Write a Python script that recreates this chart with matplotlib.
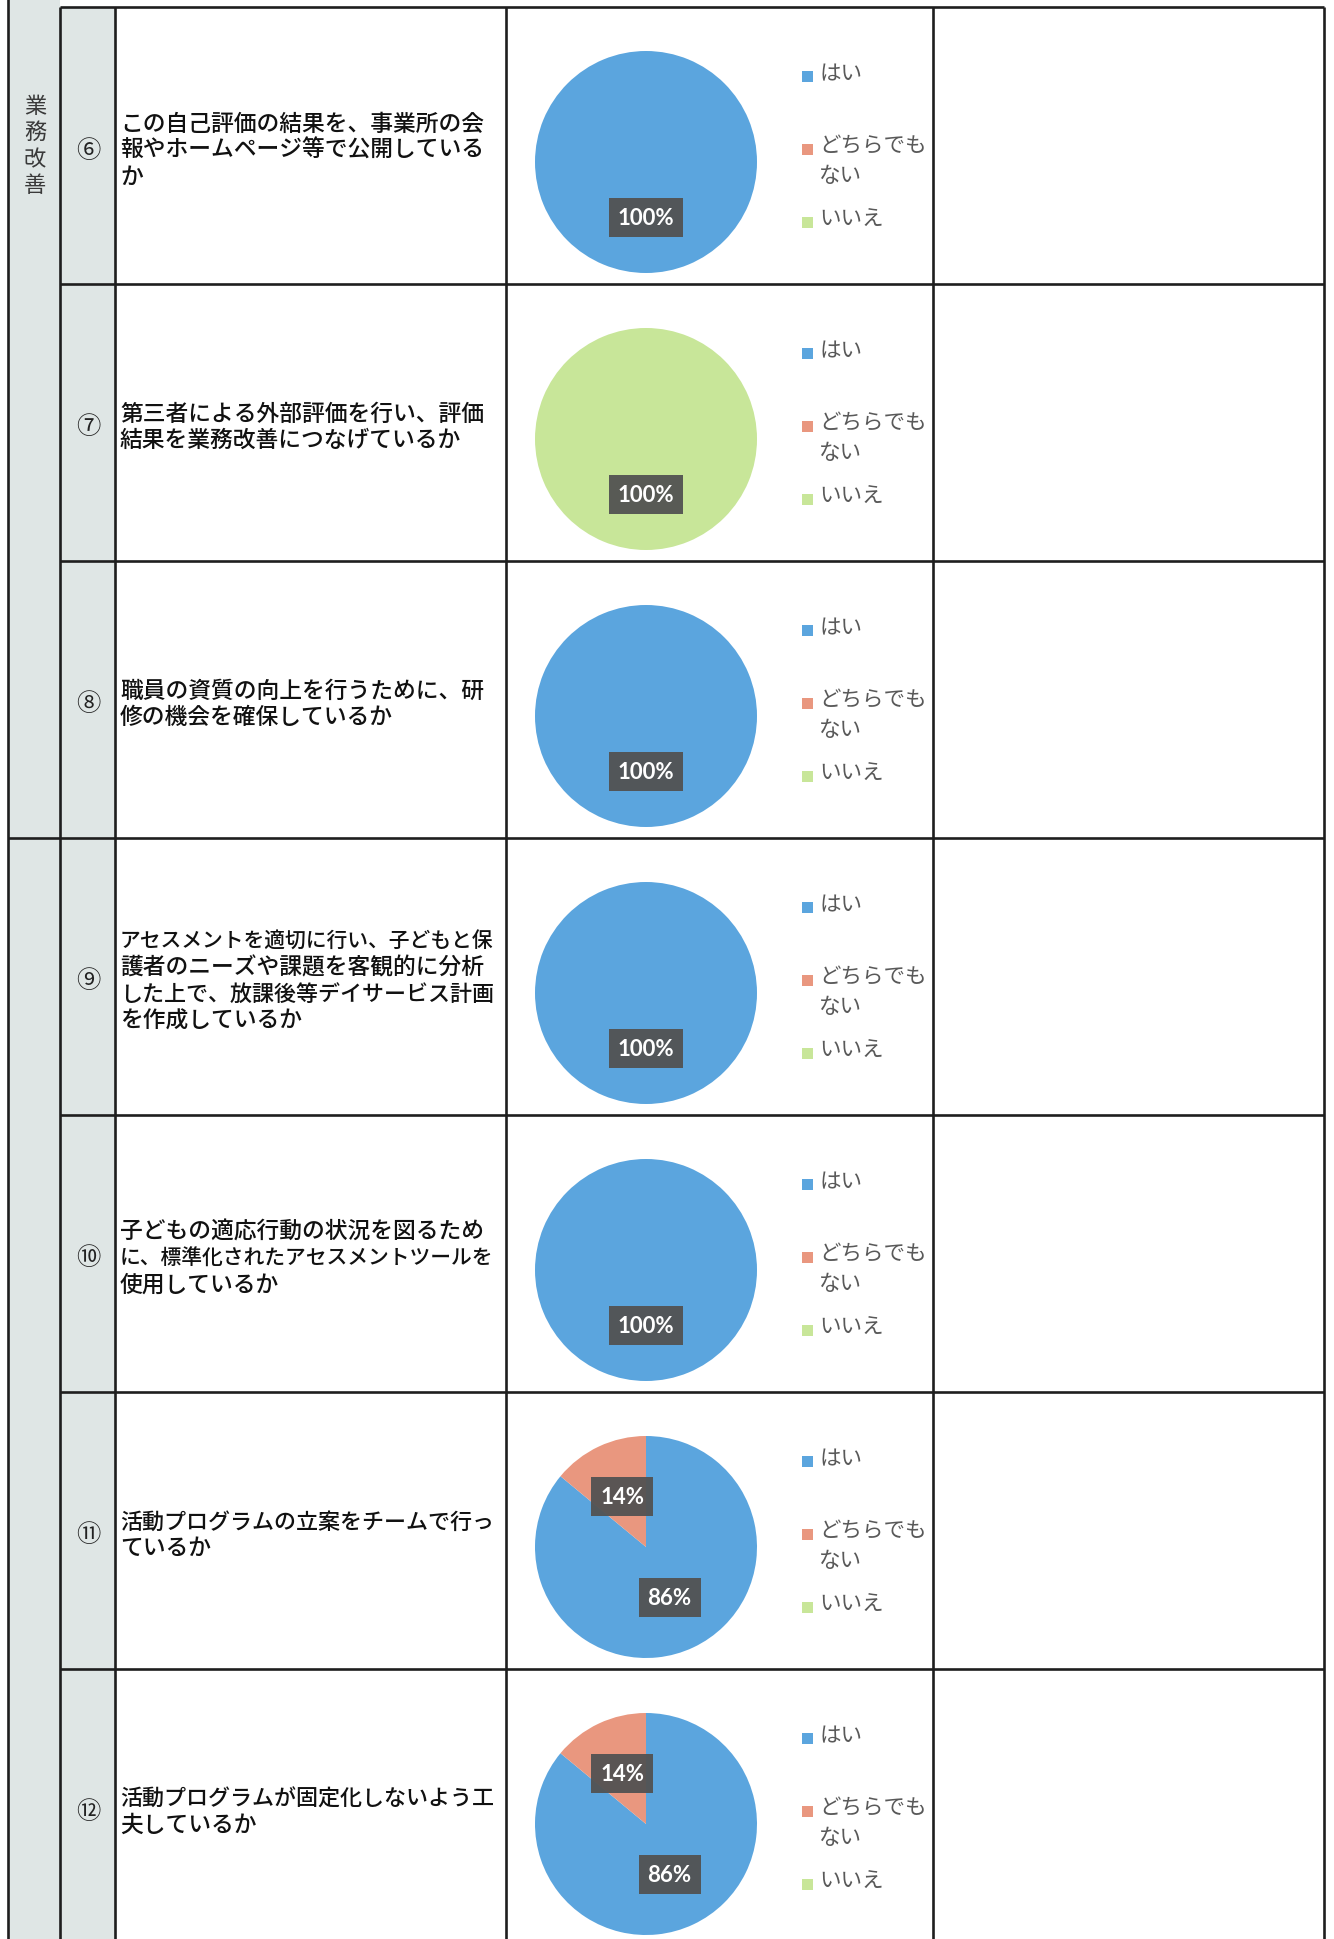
import matplotlib
matplotlib.use("Agg")
import matplotlib.pyplot as plt
from matplotlib.patches import Rectangle

plt.rcParams['font.family'] = ['Noto Sans CJK JP', 'DejaVu Sans']

# ---------------- data ----------------
categories = ["はい", "どちらでもない", "いいえ"]
legend_labels = ["はい", "どちらでも\nない", "いいえ"]
colors = ["#5ba5de", "#e9977f", "#c8e699"]

item_numbers = ["⑥", "⑦", "⑧", "⑨", "⑩", "⑪", "⑫"]
questions = [
    "この自己評価の結果を、事業所の会\n報やホームページ等で公開している\nか",
    "第三者による外部評価を行い、評価\n結果を業務改善につなげているか",
    "職員の資質の向上を行うために、研\n修の機会を確保しているか",
    "アセスメントを適切に行い、子どもと保\n護者のニーズや課題を客観的に分析\nした上で、放課後等デイサービス計画\nを作成しているか",
    "子どもの適応行動の状況を図るため\nに、標準化されたアセスメントツールを\n使用しているか",
    "活動プログラムの立案をチームで行っ\nているか",
    "活動プログラムが固定化しないよう工\n夫しているか",
]
yes_pct = [100, 0, 100, 100, 100, 86, 86]
neither_pct = [0, 0, 0, 0, 0, 14, 14]
no_pct = [0, 100, 0, 0, 0, 0, 0]
group_label = "業務改善"

# ---------------- layout ----------------
W, H = 1334, 1940
DPI = 100
fig = plt.figure(figsize=(W / DPI, H / DPI), dpi=DPI)
fig.patch.set_facecolor("white")
renderer = fig.canvas.get_renderer()

ax = fig.add_axes([0, 0, 1, 1])
ax.set_xlim(0, W)
ax.set_ylim(H, 0)
ax.axis("off")

x_c0, x_c1, x_c2, x_c3, x_c4, x_c5 = 8, 60, 115, 506, 933, 1324
top = 8
row_h = 277
n_rows = len(questions)
row_tops = [top + i * row_h for i in range(n_rows)]
group_break = 3  # second group starts at row index 3

fill = "#dfe6e5"
ax.add_patch(Rectangle((x_c0, 0), x_c1 - x_c0, H, facecolor=fill, edgecolor="none", zorder=0))
ax.add_patch(Rectangle((x_c1, top), x_c2 - x_c1, H - top, facecolor=fill, edgecolor="none", zorder=0))

lc = "#1e1e1e"
lw = 1.9
for x, y0 in [(x_c0, 0), (x_c1, top), (x_c2, top), (x_c3, top), (x_c4, top), (x_c5, top)]:
    ax.plot([x, x], [y0, H], color=lc, lw=lw, solid_capstyle="butt", zorder=3)
for i, rt in enumerate(row_tops):
    x_start = x_c0 if i == group_break else x_c1
    ax.plot([x_start, x_c5], [rt, rt], color=lc, lw=lw, solid_capstyle="butt", zorder=3)

# group label (vertical)
ax.text(35, 146, "\n".join(group_label), ha="center", va="center", fontsize=16,
        color="#3a3a3a", linespacing=1.2)

base_fs = 16.4
max_w = 374
line_gap = 26.5

for i in range(n_rows):
    rt = row_tops[i]
    mid = rt + row_h / 2 + 4
    ax.text((x_c1 + x_c2) / 2 + 1, mid, item_numbers[i], ha="center", va="center",
            fontsize=17.5, color="#222222")
    lines = questions[i].split("\n")
    n = len(lines)
    for k, ln in enumerate(lines):
        y = mid + (k - (n - 1) / 2) * line_gap
        t = ax.text(x_c2 + 5, y, ln, ha="left", va="center", fontsize=base_fs,
                    color="#111111", fontweight="medium")
        w = t.get_window_extent(renderer=renderer).width
        if w > max_w:
            t.set_fontsize(base_fs * max_w / w)

    # pie
    cx, cy, r = 646, rt + 155, 111
    pax = fig.add_axes([(cx - r) / W, 1 - (cy + r) / H, 2 * r / W, 2 * r / H])
    vals = [yes_pct[i], neither_pct[i], no_pct[i]]
    wedges, texts, autotexts = pax.pie(
        vals, colors=colors, startangle=90, counterclock=False,
        autopct=lambda p: f"{p:.0f}%" if p > 0.5 else "",
        pctdistance=0.5, wedgeprops=dict(linewidth=0),
        textprops=dict(color="white", fontsize=16, fontweight="bold",
                       family=["Lato", "DejaVu Sans"]))
    for t in autotexts:
        if t.get_text():
            t.set_bbox(dict(boxstyle="square,pad=0.4", facecolor="#525252",
                            edgecolor="none", alpha=0.95))
    pax.set_xlim(-1, 1)
    pax.set_ylim(-1, 1)
    pax.set_aspect("equal")
    pax.axis("off")

    # legend (manual, Excel-like even slots)
    slot_y = [rt + 62, rt + 135, rt + 208]
    for j, lab in enumerate(legend_labels):
        ax.add_patch(Rectangle((802, slot_y[j] + 2), 11, 11, facecolor=colors[j],
                               edgecolor="none", zorder=4))
        ax.text(819, slot_y[j] - 7, lab, ha="left", va="top", fontsize=15.5,
                color="#595959", linespacing=1.42)

fig.savefig("out.png", dpi=DPI, facecolor="white")
